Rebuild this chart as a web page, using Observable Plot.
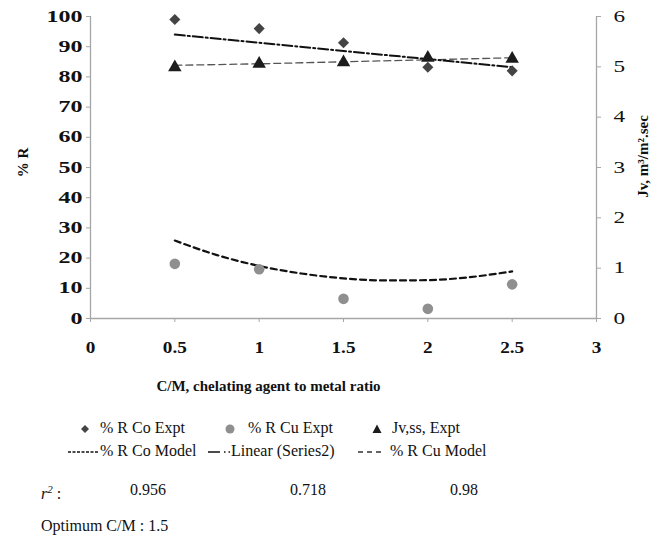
<!DOCTYPE html>
<html>
<head>
<meta charset="utf-8">
<script src="https://cdn.jsdelivr.net/npm/d3@7"></script>
<script src="https://cdn.jsdelivr.net/npm/@observablehq/plot@0.6"></script>
<style>
  body { margin: 0; background: #fff; font-family: "Liberation Serif", "Times New Roman", serif; }
  #wrap { position: relative; width: 666px; height: 545px; }
  #chart { position: absolute; left: 0; top: 0; }
  #chart svg text { font-family: "Liberation Serif", "Times New Roman", serif; }
  .lg { position: absolute; font-size: 16px; color: #111; white-space: nowrap; line-height: 20px; }
  .lg svg { vertical-align: middle; }
</style>
</head>
<body>
<div id="wrap">
  <div id="chart"></div>
</div>
<script>
// ---- data ----
const cm = [0.5, 1, 1.5, 2, 2.5];
const coExpt = [99.0, 96.0, 91.3, 83.2, 82.0];          // % R Co Expt (diamonds)
const cuExpt = [18.1, 16.3, 6.5, 3.2, 11.3];            // % R Cu Expt (circles)
const jvExpt = [4.99, 5.06, 5.09, 5.18, 5.16];          // Jv,ss Expt (triangles, right axis)
const cuModelX = [0.5, 0.75, 1, 1.25, 1.5, 1.75, 2, 2.25, 2.5];
const cuModel = [25.8, 21.0, 17.4, 14.9, 13.3, 12.6, 12.7, 13.7, 15.6]; // lower dashed curve
const jvModel = [5.03, 5.06, 5.10, 5.14, 5.18];         // upper dashed line (right axis)
const linX = [0.5, 2.5];
const linY = [94.0, 83.2];                              // Linear (Series2) trend
const leftTicks = [0, 10, 20, 30, 40, 50, 60, 70, 80, 90, 100];
const rightTicks = [0, 1, 2, 3, 4, 5, 6];
const xTicks = [0, 0.5, 1, 1.5, 2, 2.5, 3];

const jvToY = v => v * 100 / 6;

const axisColor = "#a6a6a6";
const fontFam = "Liberation Serif, Times New Roman, serif";

const chart = Plot.plot({
  width: 666,
  height: 400,
  marginLeft: 90,
  marginRight: 70,
  marginTop: 16,
  marginBottom: 82,
  style: { fontFamily: fontFam, fontSize: "16px", color: "#111", background: "white" },
  x: { domain: [0, 3] },
  y: { domain: [0, 100] },
  marks: [
    Plot.axisY({ ticks: leftTicks, tickSize: 4, tickPadding: 4, stroke: axisColor, fontSize: 16,
      fontWeight: "bold", label: null }),
    Plot.axisY({ anchor: "right", ticks: rightTicks.map(jvToY), tickFormat: d => Math.round(d * 6 / 100),
      tickSize: 4, tickPadding: 13, stroke: axisColor, fontSize: 16, label: null }),
    Plot.axisX({ ticks: xTicks, tickSize: 4, tickPadding: 19, stroke: axisColor, fontSize: 16,
      fontWeight: "bold", tickFormat: d => String(d), label: null }),
    Plot.ruleX([0], { y1: 0, y2: 100, stroke: axisColor, strokeWidth: 1.3 }),
    Plot.ruleX([3], { y1: 0, y2: 100, stroke: axisColor, strokeWidth: 1.3 }),
    Plot.ruleY([0], { stroke: axisColor, strokeWidth: 1.3 }),
    // axis titles
    Plot.text(["% R"], { frameAnchor: "left", textAnchor: "middle", dx: -67, dy: -5, rotate: -90, fontWeight: "bold", fontSize: 15 }),
    Plot.text(["Jv, m³/m².sec"], { frameAnchor: "right", textAnchor: "middle", dx: 47, dy: -11, rotate: -90, fontWeight: "bold", fontSize: 15 }),
    Plot.text(["C/M, chelating agent to metal ratio"], { frameAnchor: "bottom", textAnchor: "middle", dx: -75, dy: 72, fontWeight: "bold", fontSize: 15 }),
    // lines
    Plot.line(cuModelX, { x: d => d, y: (d, i) => cuModel[i], stroke: "#111", strokeWidth: 2.2, strokeDasharray: "6,4", curve: "monotone-x" }),
    Plot.line(cm, { x: d => d, y: (d, i) => jvToY(jvModel[i]), stroke: "#555", strokeWidth: 1.3, strokeDasharray: "7,4" }),
    Plot.line(linX, { x: d => d, y: (d, i) => linY[i], stroke: "#111", strokeWidth: 2, strokeDasharray: "10,3,2,3" }),
    // points
    Plot.dot(cm, { x: d => d, y: (d, i) => coExpt[i], symbol: "diamond2", r: 5, fill: "#444", stroke: "none" }),
    Plot.dot(cm, { x: d => d, y: (d, i) => cuExpt[i], r: 5.3, fill: "#8f8f8f", stroke: "none" }),
    Plot.dot(cm, { x: d => d, y: (d, i) => jvToY(jvExpt[i]), symbol: "triangle", r: 5, fill: "#1c1c1c", stroke: "none" })
  ]
});
document.getElementById("chart").appendChild(chart);

// widen tick labels horizontally like the reference raster
d3.select(chart).selectAll('g[aria-label="y-axis tick label"] text').each(function () {
  const t = d3.select(this);
  const anchor = this.parentNode.getAttribute("text-anchor");
  t.attr("transform", (t.attr("transform") || "") + (anchor === "start" ? " scale(1.45,1)" : " scale(1.5,1)"));
});
d3.select(chart).selectAll('g[aria-label="x-axis tick label"] text').each(function () {
  const t = d3.select(this);
  t.attr("transform", (t.attr("transform") || "") + " scale(1.2,1)");
});

// ---- legend & notes ----
const wrap = document.getElementById("wrap");
function add(html, left, top) {
  const d = document.createElement("div");
  d.className = "lg";
  d.style.left = left + "px";
  d.style.top = top + "px";
  d.innerHTML = html;
  wrap.appendChild(d);
}
const sym = {
  diamond: '<svg width="12" height="12"><path d="M6,2 L10,6 L6,10 L2,6Z" fill="#444"/></svg>',
  circle: '<svg width="12" height="12"><circle cx="6" cy="6" r="4.5" fill="#8f8f8f"/></svg>',
  tri: '<svg width="12" height="12"><path d="M6,1.5 L10.5,10 L1.5,10Z" fill="#1c1c1c"/></svg>'
};
function lineSample(w, dash, sw, col) {
  return `<svg width="${w}" height="10"><line x1="0" y1="5" x2="${w}" y2="5" stroke="${col}" stroke-width="${sw}" stroke-dasharray="${dash}"/></svg>`;
}
const legendRow1 = ["% R Co Expt", "% R Cu Expt", "Jv,ss, Expt"];
const legendRow2 = ["% R Co Model", "Linear (Series2)", "% R Cu Model"];
const r2Values = ["0.956", "0.718", "0.98"];
const note = "Optimum C/M : 1.5";

add(sym.diamond, 79, 418);
add(legendRow1[0], 100, 418);
add(sym.circle, 224, 418);
add(legendRow1[1], 248, 418);
add(sym.tri, 371, 418);
add(legendRow1[2], 392, 418);

add(lineSample(31, "3,1.5", 1.3, "#111"), 68, 441);
add(legendRow2[0], 100, 441);
add(lineSample(22, "12,4,1.5,3,1.5,3", 1.3, "#111"), 208, 441);
add(legendRow2[1], 231, 441);
add(lineSample(27, "5,4", 1.3, "#333"), 358, 441);
add(legendRow2[2], 390, 441);

add('<i>r</i><sup style="font-size:11px"><i>2</i></sup> :', 41, 479);
add(r2Values[0], 130, 480);
add(r2Values[1], 290, 480);
add(r2Values[2], 450, 480);
add(note, 41, 516);
</script>
</body>
</html>
